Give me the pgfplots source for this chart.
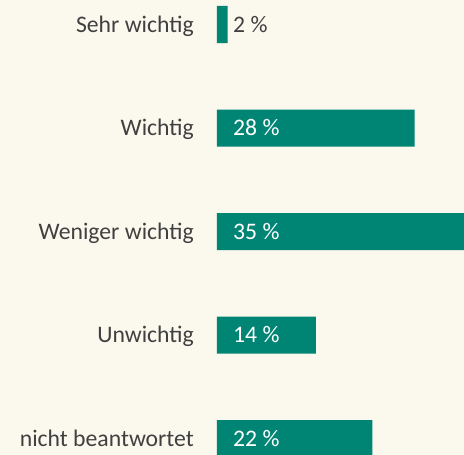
\documentclass[border=0pt]{standalone}
\usepackage{pgfplots}
\pgfplotsset{compat=1.18}
\usepackage{fontspec}
\setmainfont{Carlito}
\definecolor{bg}{RGB}{251,248,237}
\definecolor{barc}{RGB}{0,133,116}
\definecolor{txt}{RGB}{64,64,64}
\begin{document}
\begin{tikzpicture}
\fill[bg] (-217bp,0) rectangle (247bp,455bp);
\begin{axis}[
 at={(0,0)}, anchor=south west,
 scale only axis, width=247bp, height=455bp,
 xmin=0, xmax=35, ymin=-0.2367, ymax=4.159, y dir=reverse,
 axis line style={draw=none}, tick style={draw=none},
 xtick=\empty, ytick={0,1,2,3,4},
 yticklabels={Sehr wichtig, Wichtig, Weniger wichtig, Unwichtig, nicht beantwortet},
 yticklabel style={font=\fontsize{23.7bp}{28bp}\selectfont, text=txt, anchor=base east, inner sep=0pt, xshift=-23bp, yshift=-7.6bp},
]
\addplot[xbar, bar width=37bp, fill=barc, draw=none] coordinates {(1.5,0) (28,1) (35,2) (14,3) (22,4)};
\addplot[only marks, mark=*, mark size=0pt, mark options={opacity=0}, nodes near coords, point meta=explicit symbolic,
  every node near coord/.style={anchor=base west, inner sep=0pt, xshift=16bp, yshift=-7.6bp, text=white, text opacity=1, font=\fontsize{23.7bp}{28bp}\selectfont}]
  coordinates {(0,1) [28 \%] (0,2) [35 \%] (0,3) [14 \%] (0,4) [22 \%]};
\addplot[only marks, mark=*, mark size=0pt, mark options={opacity=0}, nodes near coords, point meta=explicit symbolic,
  every node near coord/.style={anchor=base west, inner sep=0pt, xshift=16bp, yshift=-7.6bp, text=txt, text opacity=1, font=\fontsize{23.7bp}{28bp}\selectfont}]
  coordinates {(0,0) [2 \%]};
\end{axis}
\pgfresetboundingbox
\path[use as bounding box] (-217bp,0) rectangle (247bp,455bp);
\end{tikzpicture}
\end{document}
